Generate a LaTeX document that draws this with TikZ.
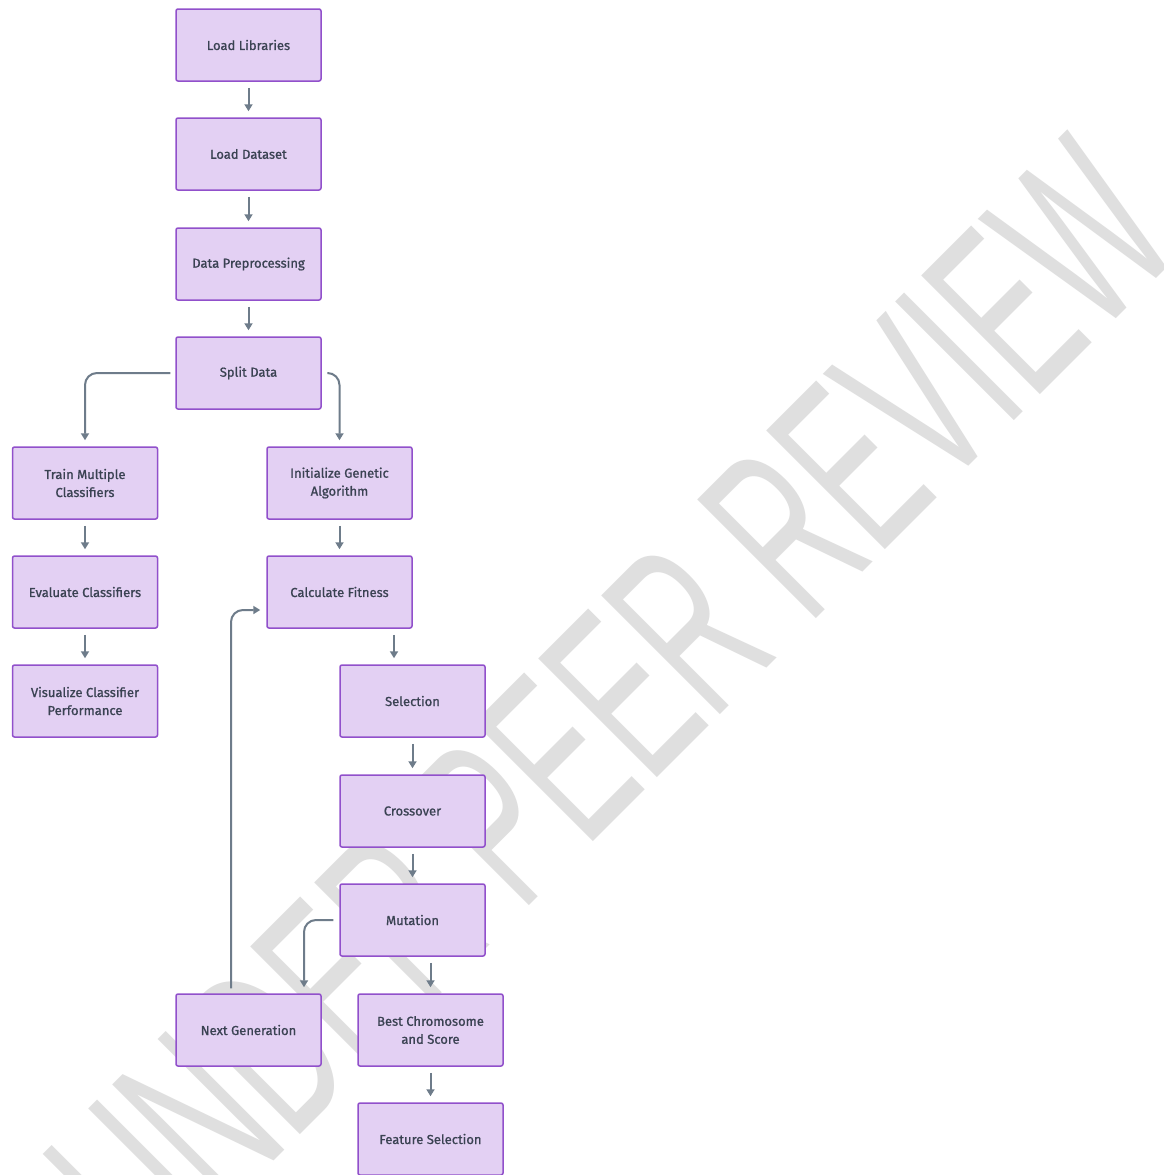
\documentclass[tikz,border=0pt]{standalone}
\usepackage{fontspec}
\setmainfont{Fira Sans}
\newfontfamily\lblfont{Fira Sans}[RawFeature={embolden=1.0}]
\newfontfamily\wmfont{Liberation Sans}
\usetikzlibrary{arrows.meta,calc}
\definecolor{boxfill}{HTML}{E3D0F3}
\definecolor{boxline}{HTML}{9150CB}
\definecolor{arrowcol}{HTML}{6E7C8A}
\definecolor{txtcol}{HTML}{3A4252}
\definecolor{wmcol}{RGB}{223,223,223}
\tikzset{
  stepbox/.style={draw=boxline, fill=boxfill, line width=1.5pt, rounded corners=2pt,
    minimum width=145pt, minimum height=72pt, inner sep=2pt, align=center,
    text=txtcol, font=\lblfont\fontsize{13}{18}\selectfont},
  arr/.style={draw=arrowcol, line width=2pt, -{Triangle[width=8pt,length=7pt]},
    shorten <=6pt, shorten >=6pt, rounded corners=12pt}
}
\begin{document}
\begin{tikzpicture}[x=1pt,y=-1pt]
\useasboundingbox (0,0) rectangle (1163,1175);
\clip (0,0) rectangle (1163,1175);
\fill[white] (0,0) rectangle (1163,1175);
% watermark
\node[rotate=45, inner sep=0pt, text=wmcol] (wm) at (612,706)
  {\scalebox{0.555}[1]{\wmfont\fontsize{244}{244}\selectfont UNDER PEER REVIEW}};
% nodes
\node[stepbox] (lib) at (248.5,45) {Load Libraries};
\node[stepbox] (ds) at (248.5,154) {Load Dataset};
\node[stepbox] (pre) at (248.5,264) {Data Preprocessing};
\node[stepbox] (split) at (248.5,373) {Split Data};
\node[stepbox] (train) at (85,483) {Train Multiple\\Classifiers};
\node[stepbox] (eval) at (85,592) {Evaluate Classifiers};
\node[stepbox] (vis) at (85,701) {Visualize Classifier\\Performance};
\node[stepbox] (init) at (339.5,483) {Initialize Genetic\\Algorithm};
\node[stepbox] (fit) at (339.5,592) {Calculate Fitness};
\node[stepbox] (sel) at (412.5,701) {Selection};
\node[stepbox] (cross) at (412.5,811) {Crossover};
\node[stepbox] (mut) at (412.5,920) {Mutation};
\node[stepbox] (next) at (248.5,1030) {Next Generation};
\node[stepbox] (best) at (430.5,1030) {Best Chromosome\\and Score};
\node[stepbox] (feat) at (430.5,1139) {Feature Selection};
% connectors
\draw[arr] (lib) -- (ds);
\draw[arr] (ds) -- (pre);
\draw[arr] (pre) -- (split);
\draw[arr, shorten <=5pt] (split.west) -| (train.north);
\draw[arr] (split.east) -| (init.north);
\draw[arr] (train) -- (eval);
\draw[arr] (eval) -- (vis);
\draw[arr] (init) -- (fit);
\draw[arr] ([xshift=54.5pt]fit.south) -- ([xshift=-18.5pt]sel.north);
\draw[arr] (sel) -- (cross);
\draw[arr] (cross) -- (mut);
\draw[arr] (mut.west) -| ([xshift=55.5pt]next.north);
\draw[arr] (mut.south -| best.north) -- (best.north);
\draw[arr] (best) -- (feat);
\draw[arr, shorten <=5pt] ([xshift=-17.5pt]next.north) |- ([yshift=-18pt]fit.west);
\end{tikzpicture}
\end{document}
